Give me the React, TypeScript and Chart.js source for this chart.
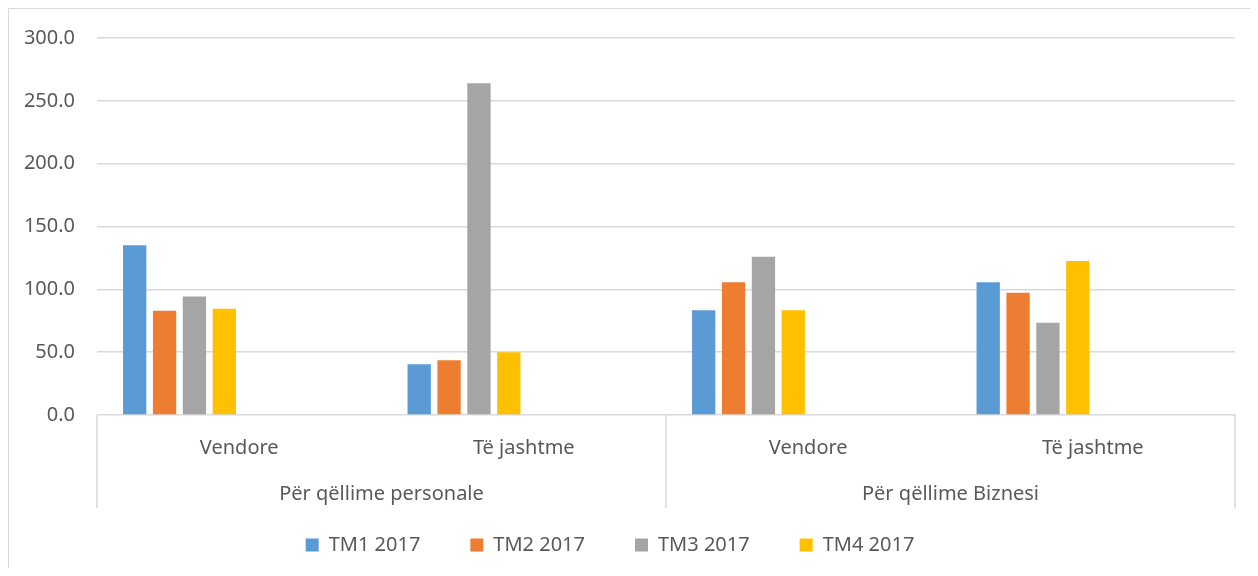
import React, { useEffect, useRef } from 'react';
import { Chart, registerables } from 'chart.js';

Chart.register(...registerables);

// ---- data ----
const CATEGORIES = ['Vendore', 'Të jashtme', 'Vendore', 'Të jashtme'];
const GROUPS = ['Për qëllime personale', 'Për qëllime Biznesi'];
const SERIES_NAMES = ['TM1 2017', 'TM2 2017', 'TM3 2017', 'TM4 2017'];
const TM1 = [135.0, 40.3, 83.3, 105.6];
const TM2 = [83.0, 43.5, 105.6, 97.3];
const TM3 = [94.2, 264.0, 126.0, 73.5];
const TM4 = [84.6, 49.9, 83.3, 122.5];
const Y_MIN = 0;
const Y_MAX = 300;
const Y_STEP = 50;
// Excel chart reserved 4 empty series slots after the real ones
const EMPTY_SLOTS = 4;

const COLORS = ['#5B9BD5', '#ED7D31', '#A5A5A5', '#FFC000'];
const TEXT = '#595959';
const GRID = '#d9d9d9';
const FONT = { family: "'Noto Sans', sans-serif", size: 20 };
const LEGEND_SHIFT = { x: -12, y: -23 };

const separatorPlugin = {
  id: 'groupSeparators',
  afterLayout(chart: any) {
    const lg = chart.legend;
    if (lg) {
      lg.left += LEGEND_SHIFT.x;
      lg.right += LEGEND_SHIFT.x;
      lg.top += LEGEND_SHIFT.y;
    }
  },
  afterDraw(chart: any) {
    const x = chart.scales.x;
    const x2 = chart.scales.x2;
    const area = chart.chartArea;
    const ctx = chart.ctx;
    const n = CATEGORIES.length;
    const perGroup = n / GROUPS.length;
    const xs: number[] = [x.left];
    for (let g = 1; g < GROUPS.length; g++) {
      const a = x.getPixelForValue(g * perGroup - 1);
      const b = x.getPixelForValue(g * perGroup);
      xs.push((a + b) / 2);
    }
    xs.push(x.right);
    ctx.save();
    ctx.strokeStyle = GRID;
    ctx.lineWidth = 1.5;
    ctx.beginPath();
    xs.forEach((px) => {
      const p = Math.round(px);
      ctx.moveTo(p, area.bottom);
      ctx.lineTo(p, x2.bottom);
    });
    ctx.stroke();
    ctx.restore();
  },
};

export default function App() {
  const ref = useRef<HTMLCanvasElement | null>(null);
  useEffect(() => {
    if (!ref.current) return;
    const series = [TM1, TM2, TM3, TM4];
    const datasets: any[] = series.map((d, i) => ({
      label: SERIES_NAMES[i],
      data: d,
      backgroundColor: COLORS[i],
      borderWidth: 0,
      xAxisID: 'x',
    }));
    for (let i = 0; i < EMPTY_SLOTS; i++) {
      datasets.push({ label: '', data: CATEGORIES.map(() => null), backgroundColor: 'rgba(0,0,0,0)', borderWidth: 0, xAxisID: 'x' });
    }
    const chart = new Chart(ref.current, {
      type: 'bar',
      data: { labels: CATEGORIES, datasets },
      options: {
        animation: false,
        responsive: true,
        maintainAspectRatio: false,
        datasets: { bar: { categoryPercentage: 0.84, barPercentage: 0.78 } },
        layout: { padding: { left: 0, right: 22, top: 29, bottom: 0 } },
        plugins: {
          tooltip: { enabled: false },
          legend: {
            position: 'bottom',
            maxHeight: 60,
            labels: {
              filter: (item: any) => item.text !== '',
              boxWidth: 13,
              boxHeight: 13,
              padding: 50,
              color: TEXT,
              font: FONT,
            },
          },
        },
        scales: {
          y: {
            min: Y_MIN,
            max: Y_MAX,
            ticks: {
              stepSize: Y_STEP,
              color: TEXT,
              font: FONT,
              padding: 0,
              callback: (v: any) => Number(v).toFixed(1),
            },
            grid: { color: GRID, lineWidth: 1.5, drawTicks: true, tickLength: 22, tickColor: 'rgba(0,0,0,0)' },
            border: { display: false },
            afterFit: (s: any) => { s.width = 88; },
          },
          x: {
            position: 'bottom',
            weight: 0,
            grid: { display: false, drawTicks: false },
            border: { display: false },
            ticks: { color: TEXT, font: FONT, padding: 21, maxRotation: 0, autoSkip: false },
            afterFit: (s: any) => { s.height = 62; },
          },
          x2: {
            type: 'category',
            labels: GROUPS,
            position: 'bottom',
            weight: 1,
            offset: true,
            grid: { display: false, drawTicks: false },
            border: { display: false },
            ticks: { color: TEXT, font: FONT, padding: 5, maxRotation: 0, autoSkip: false },
            afterFit: (s: any) => { s.height = 31; },
          },
        },
      } as any,
      plugins: [separatorPlugin],
    });
    return () => chart.destroy();
  }, []);
  return (
    <div style={{ width: 1248, height: 559, borderLeft: '1px solid #d9d9d9', borderTop: '1px solid #d9d9d9', position: 'relative' }}>
      <canvas ref={ref} />
    </div>
  );
}
